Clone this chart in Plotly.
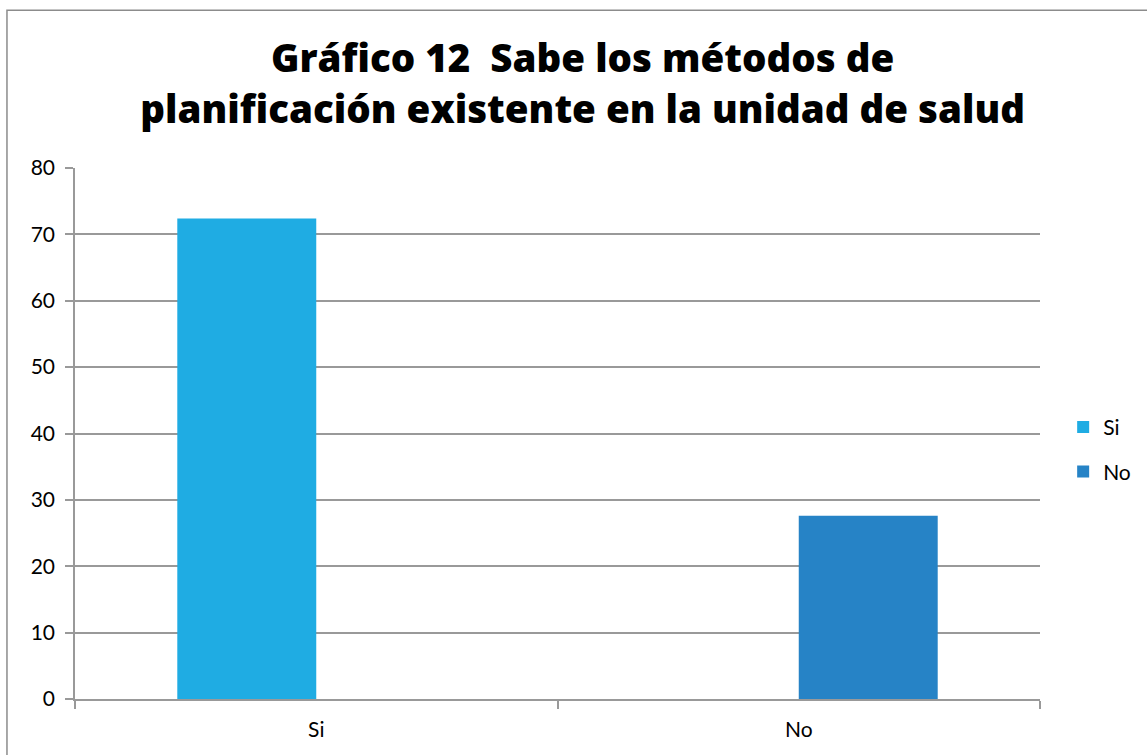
import plotly.graph_objects as go

categories = ["Si", "No"]
series_names = ["Si", "No"]
si_values = [72.4, None]
no_values = [None, 27.6]
y_ticks = [0, 10, 20, 30, 40, 50, 60, 70, 80]

colors = {"Si": "#1FACE3", "No": "#2683C6"}
font_family = "Lato, 'Open Sans', sans-serif"
title_family = "'Open Sans', sans-serif"

fig = go.Figure()
for name, vals in zip(series_names, [si_values, no_values]):
    fig.add_trace(go.Bar(
        x=categories, y=vals, name=name,
        marker=dict(color=colors[name], line=dict(width=0)),
        legendgroup=name,
    ))

fig.update_layout(
    width=1147, height=755,
    margin=dict(l=75, r=107, t=168, b=56, autoexpand=False),
    paper_bgcolor="white", plot_bgcolor="white",
    barmode="group", bargap=0.424, bargroupgap=0,
    title=dict(
        text="Gráfico 12  Sabe los métodos de<br>planificación existente en la unidad de salud",
        x=0.508, xanchor="center", y=0.904, yanchor="middle",
        font=dict(family=title_family, size=38.5, color="black", weight=800),
    ),
    font=dict(family=font_family, size=21, color="black"),
    legend=dict(
        x=1.024, y=0.47, xanchor="left", yanchor="middle",
        font=dict(size=21, color="black"), tracegroupgap=14,
        traceorder="grouped", itemwidth=30,
    ),
    showlegend=True,
    xaxis=dict(
        type="category", tickson="boundaries", ticks="outside", ticklen=8,
        tickcolor="#999999", tickwidth=1.5, showgrid=False,
        showline=True, linecolor="#999999", linewidth=2,
        tickfont=dict(size=21, color="black"), ticklabelstandoff=11,
    ),
    yaxis=dict(
        range=[0, 80], tickvals=y_ticks, ticks="outside", ticklen=8,
        tickcolor="#999999", tickwidth=1.5,
        showgrid=True, gridcolor="#999999", gridwidth=2,
        showline=True, linecolor="#999999", linewidth=1.5,
        zeroline=False, ticklabelstandoff=6,
        tickfont=dict(size=21, color="black"),
    ),
    shapes=[dict(
        type="rect", xref="paper", yref="paper",
        x0=-0.0705, x1=1.3, y0=-0.3, y1=1.297,
        line=dict(color="#8c8c8c", width=1.5), fillcolor="rgba(0,0,0,0)",
        layer="below",
    )],
)

fig.write_html("out.html")
